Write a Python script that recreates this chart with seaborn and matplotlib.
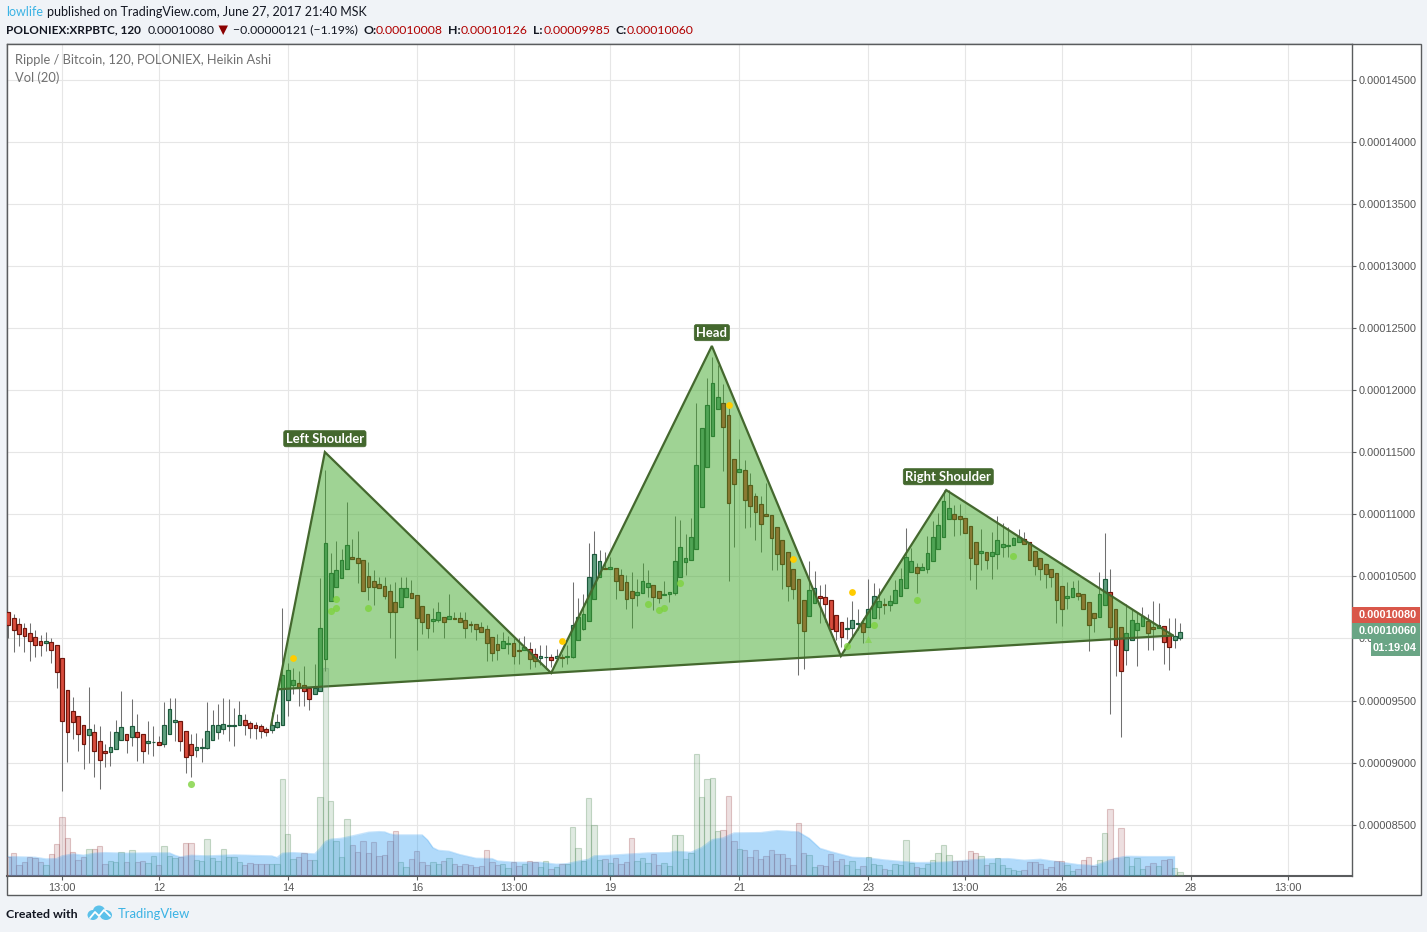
import matplotlib
matplotlib.use("Agg")
import matplotlib.pyplot as plt
import numpy as np
import pandas as pd
import seaborn as sns
from matplotlib.patches import Ellipse, Polygon, Rectangle
from matplotlib.transforms import Affine2D

# prices are in 1e-8 BTC, candle numbers start at 1
candle_dir = (
    "RRRRRRRGRR" "RRRRRGRRRG" "GGRGRRGGRG" "GGRRRGGGGG" "GGGGRRRRRG"
    "GGGGRRRGGG" "GGGGRRRRRR" "RRRGGRRRRG" "GRGRRRRRRR" "RRGGRRGRRG"
    "GRGRGGGGGG" "GRGRRRRGGG" "RRGGGGGGGG" "GGGRRRGRRR" "RRRRRRRRRG"
    "GRRRRRGGGR" "GGGRGGGGGR" "GGGGGGRRRR" "RGRGGGGGGR" "RRRRRRRGGR"
    "RRRGGRRRGG" "GGRRGRRGG"
)
body_top = [
    10215, 10161, 10113, 10081, 10048, 10016, 9976, 9976, 9968, 9944,
    9839, 9589, 9419, 9379, 9306, 9274, 9250, 9177, 9097, 9129,
    9250, 9290, 9234, 9298, 9250, 9234, 9177, 9169, 9169, 9306,
    9435, 9347, 9339, 9258, 9153, 9129, 9124, 9258, 9306, 9306,
    9315, 9306, 9306, 9387, 9347, 9323, 9306, 9298, 9274, 9306,
    9331, 9710, 9750, 9669, 9645, 9629, 9605, 9605, 10081, 10766,
    10524, 10548, 10629, 10750, 10653, 10645, 10629, 10500, 10460, 10435,
    10419, 10379, 10290, 10403, 10403, 10363, 10347, 10258, 10194, 10153,
    10210, 10177, 10185, 10169, 10161, 10145, 10113, 10113, 10089, 10073,
    10016, 9952, 9976, 9960, 9960, 9911, 9935, 9919, 9879, 9863,
    9855, 9855, 9863, 9855, 9863, 10105, 10177, 10201, 10498, 10683,
    10627, 10565, 10579, 10571, 10515, 10458, 10386, 10378, 10466, 10450,
    10434, 10386, 10362, 10378, 10627, 10740, 10651, 10820, 11399, 11696,
    11881, 12058, 11946, 11897, 11801, 11447, 11367, 11359, 11238, 11150,
    11085, 11005, 10997, 10900, 10796, 10699, 10563, 10482, 10306, 10394,
    10410, 10346, 10335, 10306, 10193, 10129, 10081, 10145, 10121, 10121,
    10234, 10339, 10298, 10274, 10298, 10387, 10476, 10653, 10621, 10573,
    10573, 10685, 10814, 10911, 11105, 11048, 11000, 10984, 10968, 10903,
    10774, 10702, 10694, 10694, 10790, 10758, 10750, 10806, 10814, 10798,
    10774, 10702, 10645, 10597, 10556, 10524, 10419, 10339, 10403, 10363,
    10355, 10290, 10202, 10355, 10476, 10371, 10234, 10089, 10048, 10145,
    10121, 10185, 10137, 10089, 10105, 10097, 10032, 10024, 10056,
]
body_bottom = [
    10105, 10065, 10040, 10024, 9976, 9944, 9944, 9960, 9911, 9734,
    9339, 9250, 9331, 9234, 9153, 9226, 9097, 9024, 9081, 9089,
    9113, 9186, 9186, 9210, 9210, 9097, 9161, 9164, 9145, 9153,
    9234, 9331, 9177, 9048, 9065, 9105, 9121, 9121, 9186, 9250,
    9274, 9298, 9298, 9306, 9306, 9282, 9282, 9258, 9250, 9266,
    9290, 9306, 9508, 9629, 9605, 9581, 9516, 9556, 9581, 9831,
    10298, 10411, 10484, 10556, 10637, 10605, 10379, 10411, 10411, 10403,
    10339, 10210, 10210, 10250, 10331, 10323, 10161, 10129, 10081, 10137,
    10145, 10129, 10153, 10153, 10129, 10081, 10105, 10073, 10056, 9960,
    9887, 9911, 9927, 9952, 9863, 9903, 9911, 9831, 9815, 9847,
    9852, 9828, 9847, 9847, 9855, 9855, 9984, 10080, 10137, 10314,
    10498, 10560, 10563, 10466, 10394, 10314, 10330, 10354, 10370, 10418,
    10335, 10327, 10354, 10362, 10370, 10498, 10619, 10635, 10724, 11061,
    11383, 11632, 11849, 11704, 11093, 11246, 11343, 11118, 11069, 11021,
    10925, 10989, 10812, 10683, 10603, 10426, 10402, 10121, 10064, 10185,
    10289, 10330, 10281, 10080, 10064, 10016, 10073, 10081, 10113, 10056,
    10089, 10161, 10250, 10266, 10266, 10282, 10339, 10403, 10532, 10524,
    10548, 10556, 10621, 10718, 10814, 10960, 10960, 10960, 10847, 10645,
    10597, 10685, 10629, 10661, 10677, 10734, 10742, 10750, 10774, 10758,
    10629, 10581, 10556, 10516, 10492, 10306, 10234, 10323, 10331, 10339,
    10234, 10105, 10161, 10177, 10266, 10089, 9944, 9742, 9911, 9984,
    10065, 10097, 10048, 10073, 10081, 9968, 9935, 9984, 10000,
]
wick_high = [
    10215, 10196, 10169, 10121, 10121, 10065, 10032, 10056, 10008, 9944,
    9839, 9589, 9532, 9379, 9306, 9613, 9315, 9293, 9148, 9258,
    9347, 9581, 9234, 9516, 9395, 9234, 9339, 9293, 9218, 9492,
    9524, 9524, 9339, 9258, 9234, 9242, 9202, 9492, 9427, 9476,
    9524, 9516, 9444, 9500, 9395, 9339, 9331, 9315, 9290, 9409,
    9395, 10242, 9800, 9766, 9742, 9782, 9605, 9798, 10484, 11356,
    10685, 10785, 10718, 11097, 10798, 10863, 10629, 10613, 10548, 10492,
    10492, 10435, 10452, 10492, 10492, 10468, 10347, 10258, 10194, 10242,
    10290, 10177, 10355, 10210, 10210, 10210, 10137, 10113, 10129, 10105,
    10016, 10040, 10056, 10024, 10000, 10000, 10024, 9970, 9927, 9944,
    9946, 9879, 9919, 9879, 9946, 10453, 10330, 10362, 10772, 10868,
    10716, 10697, 10657, 10571, 10557, 10515, 10533, 10482, 10606, 10555,
    10434, 10386, 10461, 10378, 10984, 10951, 10844, 10973, 11895, 11696,
    12100, 12270, 12200, 12050, 11881, 11447, 11603, 11434, 11335, 11174,
    11150, 11254, 10997, 10900, 10796, 10699, 10563, 10482, 10306, 10622,
    10547, 10429, 10437, 10306, 10193, 10129, 10172, 10301, 10234, 10161,
    10478, 10444, 10403, 10323, 10349, 10470, 10570, 10887, 10726, 10605,
    10605, 10825, 10946, 11008, 11196, 11196, 11075, 11083, 10968, 10903,
    10774, 10879, 10694, 10860, 10986, 10927, 10900, 10820, 10879, 10855,
    10774, 10702, 10645, 10597, 10556, 10524, 10419, 10454, 10462, 10468,
    10355, 10290, 10202, 10535, 10847, 10556, 10234, 10089, 10274, 10234,
    10202, 10250, 10194, 10298, 10282, 10097, 10161, 10161, 10121,
]
wick_low = [
    10000, 9892, 9941, 9892, 9820, 9852, 9860, 9901, 9804, 9602,
    8772, 9005, 9191, 9094, 8949, 8997, 8884, 8788, 8965, 8973,
    9113, 9186, 9078, 9134, 9013, 8997, 9073, 9054, 9145, 9126,
    9234, 9177, 9094, 8917, 8884, 9046, 9005, 9113, 9186, 9194,
    9234, 9177, 9134, 9306, 9223, 9202, 9194, 9202, 9218, 9242,
    9282, 9306, 9374, 9556, 9460, 9460, 9427, 9556, 9581, 9740,
    10298, 10411, 10484, 10556, 10637, 10444, 10379, 10306, 10266, 10403,
    10314, 10000, 9839, 10250, 10331, 10323, 9911, 10040, 10000, 10056,
    10129, 10000, 10153, 10153, 10129, 10008, 10056, 9984, 10056, 9820,
    9815, 9825, 9927, 9879, 9798, 9798, 9911, 9758, 9772, 9785,
    9758, 9772, 9831, 9772, 9798, 9839, 9984, 10067, 10137, 10314,
    10498, 10560, 10563, 10316, 10394, 10239, 10086, 10265, 10370, 10335,
    10233, 10287, 10354, 10295, 10348, 10498, 10509, 10635, 10724, 11061,
    11383, 11632, 11849, 11345, 10464, 10737, 11343, 10892, 10898, 10796,
    10694, 10989, 10549, 10549, 10402, 10303, 10322, 9708, 9756, 10185,
    10289, 10121, 10134, 10080, 9987, 9933, 9997, 10000, 10067, 9960,
    10089, 10161, 10153, 10194, 10223, 10282, 10339, 10403, 10532, 10368,
    10548, 10530, 10621, 10718, 10814, 10960, 10828, 10830, 10847, 10473,
    10400, 10551, 10556, 10476, 10562, 10653, 10659, 10750, 10774, 10758,
    10629, 10508, 10470, 10409, 10411, 10124, 10099, 10234, 10331, 10309,
    10234, 9898, 10054, 10177, 10266, 9392, 9702, 9207, 9790, 9984,
    9782, 10097, 9909, 9909, 10081, 9798, 9747, 9927, 9984,
]
volume = [
    56, 66, 30, 39, 54, 51, 39, 30, 63, 93,
    174, 111, 69, 45, 54, 78, 78, 87, 33, 42,
    39, 69, 39, 75, 39, 42, 36, 57, 30, 87,
    57, 51, 54, 96, 96, 45, 42, 108, 51, 42,
    78, 54, 54, 39, 30, 36, 33, 33, 33, 33,
    33, 288, 123, 48, 54, 66, 45, 45, 234, 622,
    222, 102, 54, 168, 90, 69, 102, 66, 99, 57,
    60, 102, 132, 39, 24, 48, 72, 39, 30, 39,
    33, 42, 51, 33, 27, 33, 30, 24, 27, 75,
    39, 30, 33, 21, 39, 27, 33, 42, 39, 24,
    42, 18, 24, 33, 33, 144, 81, 42, 231, 150,
    45, 48, 36, 51, 33, 39, 111, 42, 51, 36,
    63, 30, 36, 27, 120, 120, 48, 66, 364, 234,
    288, 291, 132, 135, 237, 102, 78, 75, 54, 75,
    48, 57, 75, 63, 63, 51, 30, 156, 66, 60,
    24, 30, 27, 63, 42, 48, 30, 42, 18, 27,
    54, 33, 30, 18, 15, 33, 30, 105, 36, 24,
    21, 33, 45, 66, 90, 60, 42, 42, 42, 72,
    66, 57, 30, 36, 51, 30, 21, 15, 12, 15,
    39, 39, 33, 18, 24, 42, 42, 30, 12, 18,
    45, 54, 27, 45, 126, 198, 51, 141, 54, 27,
    51, 18, 27, 36, 27, 45, 48, 21, 9,
]

# Vol (20) average, read at the candles where its slope changes
ma_bar = [
    1, 6, 8, 10, 11, 13, 15, 17, 19, 23, 27, 31, 32, 33, 35, 38, 43, 50, 51, 52,
    54, 56, 58, 59, 60, 61, 63, 65, 68, 70, 71, 72, 73, 77, 78, 79, 80, 81, 83, 85,
    88, 91, 92, 95, 100, 103, 105, 107, 109, 110, 111, 113, 120, 124, 125, 128, 130,
    132, 134, 136, 141, 144, 148, 150, 152, 154, 158, 161, 164, 166, 170, 175, 180,
    183, 187, 190, 193, 196, 200, 203, 205, 207, 209, 213, 218,
]
ma_volume = [
    56, 54, 49, 50, 58, 64, 60, 66, 68, 66, 67, 67, 60, 55, 60, 58, 61, 58, 53, 66,
    68, 66, 64, 80, 101, 108, 111, 118, 129, 131, 130, 124, 121, 121, 121, 106, 83, 75, 72, 62,
    51, 50, 43, 39, 39, 33, 35, 42, 48, 58, 59, 60, 67, 68, 72, 69, 83,
    107, 112, 127, 128, 134, 130, 111, 81, 71, 54, 52, 46, 43, 38, 39, 46,
    49, 50, 45, 48, 41, 32, 29, 39, 51, 57, 56, 56,
]

# head and shoulders drawing: (candle, price)
start_point = (49.9, 9304)
neck_left = (51.2, 9591)
left_shoulder = (59.9, 11501)
trough_1 = (102.0, 9722)
head = (131.9, 12355)
trough_2 = (155.9, 9859)
right_shoulder = (175.5, 11195)
end_point = (217.7, 10024)

yellow_bar = [54, 104, 135, 147, 158]
yellow_price = [9841, 9977, 11877, 10638, 10372]
green_bar = [35, 61, 62, 62, 68, 120, 122, 123, 126, 157, 162, 170, 188]
green_price = [8826, 10219, 10243, 10316, 10243, 10275, 10226, 10243, 10444, 9937, 10106, 10307, 10662]
arrow_bar = [161]
arrow_price = [9996]

x_tick_bars = [11, 29, 53, 77, 95, 113, 137, 161, 179, 197, 221, 239]
x_tick_labels = ["13:00", "12", "14", "16", "13:00", "19", "21", "23", "13:00", "26", "28", "13:00"]
y_ticks = [8500, 9000, 9500, 10000, 10500, 11000, 11500, 12000, 12500, 13000, 13500, 14000, 14500]
y_tick_labels = ["0.00008500", "0.00009000", "0.00009500", "0.00010000", "0.00010500", "0.00011000",
                 "0.00011500", "0.00012000", "0.00012500", "0.00013000", "0.00013500", "0.00014000",
                 "0.00014500"]

GREEN_BODY, GREEN_EDGE = "#5f9f7e", "#1d5a3c"
RED_BODY, RED_EDGE = "#d84c3d", "#6e160c"
PATTERN_LINE = "#44682e"
GRID = "#e6e6e6"
FRAME = "#5a5c5e"
BG = "#f0f3f7"
BLUE = "#3bb3e4"
HEADER_FONT = ["Lato", "DejaVu Sans"]
AXIS_FONT = ["Liberation Sans", "DejaVu Sans"]

sns.set_theme(style="white")
plt.rcParams["font.family"] = AXIS_FONT

W, H = 1427, 932
fig = plt.figure(figsize=(W / 100, H / 100), dpi=100, facecolor=BG)
px = Affine2D().scale(1, -1).translate(0, H)  # page layout in image pixels

fig.add_artist(Rectangle((6.5, 44), 1414, 851, transform=px, fc="white", ec=FRAME, lw=1.0, zorder=-1))
ax = fig.add_axes([7 / W, 1 - 876 / H, 1345 / W, 832 / H])

bars = pd.DataFrame({
    "bar": np.arange(1, len(body_top) + 1),
    "top": body_top,
    "bottom": body_bottom,
    "high": wick_high,
    "low": wick_low,
    "volume": volume,
    "dir": list(candle_dir),
})

# candles
ax.vlines(bars["bar"], bars["low"], bars["high"], color="#707070", lw=0.75, zorder=2)
is_up = bars["dir"] == "G"
ax.bar(bars["bar"], bars["top"] - bars["bottom"], bottom=bars["bottom"], width=0.7, lw=0.85, zorder=3,
       color=np.where(is_up, GREEN_BODY, RED_BODY), edgecolor=np.where(is_up, GREEN_EDGE, RED_EDGE))

# pattern fill goes over the candles, that is what turns the red bodies brown
for tri in ([neck_left, left_shoulder, trough_1], [trough_1, head, trough_2], [trough_2, right_shoulder, end_point]):
    ax.add_patch(Polygon(tri, closed=True, fc=(0.255, 0.663, 0.169, 0.5), ec="none", zorder=4))
outline = [start_point, left_shoulder, trough_1, head, trough_2, right_shoulder, end_point]
ax.plot(*zip(*outline), color=PATTERN_LINE, lw=1.6, zorder=5, solid_joinstyle="miter")
ax.plot(*zip(neck_left, end_point), color=PATTERN_LINE, lw=1.6, zorder=5)

sns.scatterplot(x=yellow_bar, y=yellow_price, color="#ffcc00", s=24, linewidth=0, zorder=6, ax=ax)
sns.scatterplot(x=green_bar, y=green_price, color="#7ed23e", s=26, linewidth=0, alpha=0.8, zorder=6, ax=ax)
sns.scatterplot(x=arrow_bar, y=arrow_price, color="#7ed23e", s=26, marker="^", linewidth=0, alpha=0.6, zorder=6, ax=ax)

for name, point, dx in (("Left Shoulder", left_shoulder, 0), ("Head", head, 0), ("Right Shoulder", right_shoulder, 1.5)):
    ax.annotate(name, xy=point, xytext=(dx, 9.6), textcoords="offset points", ha="center", va="center",
                color="white", fontsize=9.4, fontweight="bold", family=HEADER_FONT, zorder=7,
                bbox=dict(boxstyle="round,pad=0.16", fc=PATTERN_LINE, ec=PATTERN_LINE, lw=0.5))

# volume pane shares the candle axis; the average sits over the bars and tints them blue
ax_vol = ax.twinx()
sns.barplot(data=bars, x="bar", y="volume", hue="dir", palette={"G": "#5a9e62", "R": "#b5565a"}, native_scale=True,
            dodge=False, legend=False, ax=ax_vol, zorder=2)
for patch in ax_vol.patches:
    r, g, b, _ = patch.get_facecolor()
    patch.set_x(patch.get_x() + patch.get_width() / 2 - 0.5)
    patch.set_width(1.0)
    patch.set_facecolor((r, g, b, 0.2))
    patch.set_edgecolor((r, g, b, 0.35))
    patch.set_linewidth(0.8)
ax_vol.fill_between(ma_bar, ma_volume, color=(33 / 255, 150 / 255, 243 / 255, 0.35), lw=0, zorder=3)
sns.lineplot(x=ma_bar, y=ma_volume, color="#2196f3", alpha=0.25, lw=1.0, estimator=None, zorder=3, ax=ax_vol)
ax_vol.set_ylim(-2.1, 2494)
ax_vol.axis("off")

# twinx moves the price axis to the left, so the ticks are set up afterwards
ax.set_xticks(x_tick_bars, x_tick_labels)
ax.set_yticks(y_ticks, y_tick_labels)
ax.yaxis.tick_right()
ax.grid(True, color=GRID, lw=0.8)
ax.set_axisbelow(True)
ax.tick_params(axis="x", length=3, width=0.8, color=FRAME, labelsize=7.9, labelcolor="#555555", pad=2, bottom=True)
ax.tick_params(axis="y", length=3, width=0.8, color=FRAME, labelsize=7.9, labelcolor="#555555", pad=2, right=True)
for side, spine in ax.spines.items():
    spine.set_color(FRAME)
    spine.set_linewidth(1.0 if side != "bottom" else 1.5)

ax.set_xlim(0.758, 251)
ax.set_ylim(8088, 14786)
ax.set_xlabel("")
ax.set_ylabel("")


def page_text(x, y, s, color="#131722", size=8.8, weight="normal", family=HEADER_FONT, ha="left"):
    fig.text(x, y, s, transform=px, color=color, fontsize=size, fontweight=weight, family=family, ha=ha, va="center")


# header
page_text(6, 12, "lowlife", color=BLUE, size=9.0)
page_text(47, 12, "published on TradingView.com, June 27, 2017 21:40 MSK", size=9.02)
page_text(6, 30, "POLONIEX:XRPBTC, 120", weight="bold", size=8.5)
page_text(148, 30, "0.00010080")
fig.add_artist(Polygon([(218.5, 25.5), (228, 25.5), (223.2, 35)], closed=True, transform=px, fc="#8b0000", ec="none"))
page_text(233, 30, "\u22120.00000121 (\u22121.19%)")
for label, label_x, value, value_x in (("O:", 363, "0.00010008", 376), ("H:", 448, "0.00010126", 461),
                                       ("L:", 533, "0.00009985", 544), ("C:", 615, "0.00010060", 627)):
    page_text(label_x, 30, label, weight="bold")
    page_text(value_x, 30, value, color="#b00000")

# pane legend
page_text(15, 60.5, "Ripple / Bitcoin, 120, POLONIEX, Heikin Ashi", color="#707070", size=9.3)
page_text(15, 77.5, "Vol (20)", color="#707070", size=9.3)

# price boxes on the right axis
for y0, y1, x0, text_value, box_color in ((607, 623, 1352, "0.00010080", "#d9574a"),
                                          (623.3, 639, 1352, "0.00010060", "#6aa585"),
                                          (639.3, 656, 1371, "01:19:04", "#6aa585")):
    fig.add_artist(Rectangle((x0, y0), 1420 - x0, y1 - y0, transform=px, fc=box_color, ec="none", zorder=5))
    fig.text(1417, (y0 + y1) / 2, text_value, transform=px, color="white", fontsize=7.9, fontweight="bold",
             ha="right", va="center", zorder=6)

# footer
page_text(6, 914, "Created with", weight="bold", size=8.9)
page_text(118, 914, "TradingView", color=BLUE, size=9.4)
for cx, cy, ew, eh in ((99, 911, 12, 11), (93, 915, 11, 10), (106, 915, 12, 10)):
    fig.add_artist(Ellipse((cx, cy), ew, eh, transform=px, fc="#5cc1ea", ec="none"))
fig.add_artist(plt.Line2D([90, 95, 99, 104, 110], [918, 912, 916, 910, 916], transform=px, color="white", lw=1.3))

fig.savefig("out.png", dpi=100, facecolor=BG)
